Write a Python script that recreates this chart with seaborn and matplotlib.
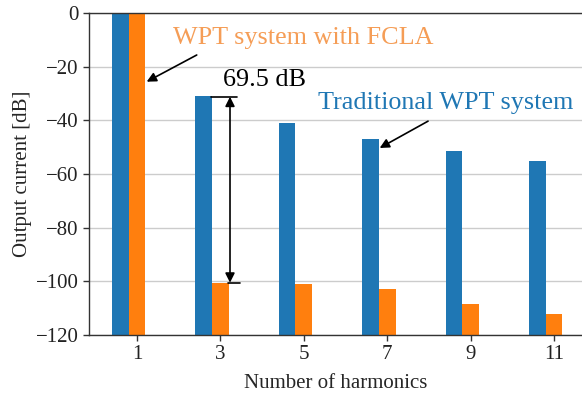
import numpy as np
import pandas as pd
import matplotlib
matplotlib.use("Agg")
import matplotlib.pyplot as plt
import seaborn as sns

harmonics = ["1", "3", "5", "7", "9", "11"]
traditional = [0, -31, -41, -47, -51.5, -55]
fcla = [0, -100.5, -101, -103, -108.3, -112.3]
series_names = ["Traditional WPT system", "WPT system with FCLA"]
yticks = [0, -20, -40, -60, -80, -100, -120]

sns.set_theme(style="white")
plt.rcParams["font.family"] = ["Liberation Serif", "DejaVu Serif"]
plt.rcParams["axes.unicode_minus"] = True

df = pd.DataFrame({
    "harm": harmonics * 2,
    "val": traditional + fcla,
    "series": [series_names[0]] * 6 + [series_names[1]] * 6,
})
base = -120
df["h"] = df["val"] - base

fig = plt.figure(figsize=(5.82, 3.94), dpi=100)
ax = fig.add_axes([0.1529, 0.1497, 0.8471, 0.8173])

sns.barplot(data=df, x="harm", y="h", hue="series", order=harmonics,
            hue_order=series_names, palette=["#1f77b4", "#ff7f0e"],
            saturation=1, width=0.4, dodge=True, errorbar=None, bottom=base,
            linewidth=0, legend=False, ax=ax, zorder=2)

ax.set_ylim(-120, 0)
ax.set_xlim(-0.476, 5.436)
ax.set_yticks(yticks)
ax.set_yticklabels([f"{t}".replace("-", "\u2212") for t in yticks], fontsize=15)
ax.set_xticks(np.arange(len(harmonics)) + 0.1)
ax.set_xticklabels(harmonics, fontsize=15)
ax.yaxis.grid(True, color="#cccccc", linewidth=1.0, zorder=0)
ax.set_axisbelow(True)
ax.set_xlabel("Number of harmonics", fontsize=15, labelpad=7)
ax.set_ylabel("Output current [dB]", fontsize=15, labelpad=3)

for s in ["left", "bottom", "top"]:
    ax.spines[s].set_color("#333333")
    ax.spines[s].set_linewidth(1.0)
ax.spines["right"].set_visible(False)
ax.tick_params(axis="both", which="both", direction="out", length=4,
               width=1, colors="#333333", labelcolor="#222222",
               left=True, bottom=True)

# annotations
ax.text(0.532, -9.3, "WPT system with FCLA", color="#f59d56", fontsize=18.8,
        va="center", ha="left")
ax.annotate("", xy=(0.216, -25.6), xytext=(0.816, -15.65),
            arrowprops=dict(arrowstyle="-|>", color="black", lw=1.2,
                            mutation_scale=14, shrinkA=0, shrinkB=0))

ax.text(1.131, -25, "69.5 dB", color="black", fontsize=18.8, va="center", ha="left")
ax.annotate("", xy=(1.215, -31.2), xytext=(1.215, -100.5),
            arrowprops=dict(arrowstyle="<|-|>", color="black", lw=1.2,
                            mutation_scale=14, shrinkA=0, shrinkB=0))
ax.plot([0.987, 1.30], [-31.2, -31.2], color="black", lw=1.2, zorder=3)
ax.plot([1.19, 1.335], [-100.5, -100.5], color="black", lw=1.2, zorder=3)

ax.text(2.27, -33.5, "Traditional WPT system", color="#1f77b4", fontsize=18.8,
        va="center", ha="left")
ax.annotate("", xy=(3.01, -50.3), xytext=(3.59, -40.3),
            arrowprops=dict(arrowstyle="-|>", color="black", lw=1.2,
                            mutation_scale=14, shrinkA=0, shrinkB=0))

fig.savefig("out.png", dpi=100)
